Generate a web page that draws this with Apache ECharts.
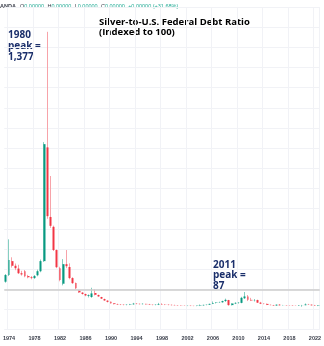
<!DOCTYPE html>
<html>
<head>
<meta charset="utf-8">
<script src="https://cdn.jsdelivr.net/npm/echarts@6/dist/echarts.min.js"></script>
<style>
  html, body { margin: 0; padding: 0; background: #ffffff; }
  #chart { width: 324px; height: 346px; }
</style>
</head>
<body>
<div id="chart"></div>
<script>
// Half-year periods, 1973 H2 through 2022 H2
const periods = [
  '1973-H2',
  '1974-H1','1974-H2','1975-H1','1975-H2','1976-H1','1976-H2','1977-H1','1977-H2',
  '1978-H1','1978-H2','1979-H1','1979-H2','1980-H1','1980-H2','1981-H1','1981-H2',
  '1982-H1','1982-H2','1983-H1','1983-H2','1984-H1','1984-H2','1985-H1','1985-H2',
  '1986-H1','1986-H2','1987-H1','1987-H2','1988-H1','1988-H2','1989-H1','1989-H2',
  '1990-H1','1990-H2','1991-H1','1991-H2','1992-H1','1992-H2','1993-H1','1993-H2',
  '1994-H1','1994-H2','1995-H1','1995-H2','1996-H1','1996-H2','1997-H1','1997-H2',
  '1998-H1','1998-H2','1999-H1','1999-H2','2000-H1','2000-H2','2001-H1','2001-H2',
  '2002-H1','2002-H2','2003-H1','2003-H2','2004-H1','2004-H2','2005-H1','2005-H2',
  '2006-H1','2006-H2','2007-H1','2007-H2','2008-H1','2008-H2','2009-H1','2009-H2',
  '2010-H1','2010-H2','2011-H1','2011-H2','2012-H1','2012-H2','2013-H1','2013-H2',
  '2014-H1','2014-H2','2015-H1','2015-H2','2016-H1','2016-H2','2017-H1','2017-H2',
  '2018-H1','2018-H2','2019-H1','2019-H2','2020-H1','2020-H2','2021-H1','2021-H2',
  '2022-H1','2022-H2'
];

// Silver / federal debt ratio, indexed to 100
const opens = [
  138,
  171,240,217,203,180,190,166,160, 156,170,190,240,804,459,410,295,
  205,128,225,211,156,131,94,84, 77,68,62,82,72,62,52,44,
  38,31,27,25,24,23,24,26, 29,28,27,28,26,24,23,24,
  27,25,24,23,22,21,20,19, 18.5,19,18,17.5,19,21,23,24,
  28,33,35,36,42,47,22,30, 33,33,56,65,48,45,47,34,
  29,28,23,22,20,24,21,21.5, 20.5,20,19,18.5,21,21.5,25,24,
  21,19
];
const closes = [
  171,
  245,217,205,180,174,165,160,156, 166,190,240,820,463,415,295,210,
  146,225,215,156,131,106,85,77, 70,72,80,73,65,54,45,38,
  31,27,25,24,23,24,26,29, 28,27,28,26,24,23,24,27,
  25,24,23,22,21,20,19,18.5, 19,18,17.5,19,21,23,24,28,
  33,35,36,42,48,22,30,33, 34,58,65,48,45,46,34,29,
  28,23,22,20,24,21,21.5,20.5, 20,19,18.5,21,21.5,25,24,21,
  19,21
];
const lows = [
  133,
  166,208,195,176,168,160,155,150, 152,165,185,236,450,405,290,205,
  140,120,205,150,127,100,82,74, 66,60,58,70,63,52,43,35,
  29,25,23,22,21,21,22,24, 26,25,25,24,23,21,21,22,
  23,22,21,20,20,19,18,17.5, 17,17,16.5,16.5,17,19,21,23,
  27,30,33,34,38,19,20,27, 29,31,52,42,42,40,33,27,
  26,22,21,19,19,20,20,19.5, 19,17.5,18,18,14,21,23,20,
  18,17
];
const highs = [
  176,
  348,259,228,222,192,196,172,166, 171,198,248,830,1377,662,416,298,
  212,250,295,229,160,134,97,86, 79,75,108,100,74,63,54,46,
  40,32,29,27,26,26,28,33, 32,30,31,29,28,25,26,33,
  31,27,26,25,24,22,21,20, 20,20,19,20,25,24,25,29,
  40,37,39,44,54,48,31,36, 37,63,87,72,58,52,49,38,
  31,30,25,23,25,27,23,22, 21.5,20.5,20,22,23,30,28,25,
  23,22
];

// Year tick labels every four years
const tickYears = ['1974','1978','1982','1986','1990','1994','1998','2002','2006','2010','2014','2018','2022'];

const UP = '#089981', DOWN = '#f23645';
const UP_WICK = '#86cfc1', DOWN_WICK = '#f7a3a9';

// Wicks: full high/low range in light tones
const wickData = periods.map((p, i) => [opens[i], closes[i], lows[i], highs[i]]);
// Bodies: open/close range in solid tones
const bodyData = periods.map((p, i) => [
  opens[i], closes[i], Math.min(opens[i], closes[i]), Math.max(opens[i], closes[i])
]);

function isTick(idx) {
  const p = periods[idx];
  return p.endsWith('H1') && tickYears.indexOf(p.slice(0, 4)) >= 0;
}

const chart = echarts.init(document.getElementById('chart'), null, { renderer: 'canvas' });

chart.setOption({
  animation: false,
  backgroundColor: '#ffffff',
  grid: { left: 0, right: 0, top: 7, bottom: 16.3, containLabel: false },
  xAxis: {
    type: 'category',
    data: periods,
    boundaryGap: true,
    axisLine: { show: false },
    axisTick: { show: false },
    axisLabel: {
      interval: (idx) => isTick(idx),
      formatter: (v) => v.slice(0, 4),
      fontSize: 5.5,
      fontFamily: 'Liberation Sans',
      fontWeight: 'bold',
      color: '#3a3e4a',
      margin: 6
    },
    splitLine: {
      show: true,
      interval: (idx) => isTick(idx),
      lineStyle: { color: '#f1f2f6', width: 1 }
    }
  },
  yAxis: {
    type: 'value',
    min: -100,
    max: 1500,
    interval: 100,
    axisLine: { show: false },
    axisTick: { show: false },
    axisLabel: { show: false },
    splitLine: { show: true, lineStyle: { color: '#f1f2f6', width: 1 } }
  },
  series: [
    {
      type: 'candlestick',
      name: 'wick',
      data: wickData,
      barWidth: 1,
      itemStyle: {
        color: UP_WICK, color0: DOWN_WICK,
        borderColor: UP_WICK, borderColor0: DOWN_WICK,
        borderWidth: 1
      },
      markLine: {
        silent: true,
        symbol: 'none',
        label: { show: false },
        lineStyle: { color: '#cdcdcd', width: 1.5, type: 'solid' },
        data: [{ yAxis: 100 }]
      }
    },
    {
      type: 'candlestick',
      name: 'body',
      data: bodyData,
      barWidth: 2.4,
      itemStyle: {
        color: UP, color0: DOWN,
        borderColor: UP, borderColor0: DOWN,
        borderWidth: 0
      }
    }
  ],
  graphic: [
    {
      type: 'text', x: 0, y: 6,
      style: {
        text: '{n|ANDA}',
        rich: { n: { fill: '#3a3e4a', fontSize: 5.5, fontFamily: 'Liberation Sans', fontWeight: 'bold' } },
        verticalAlign: 'middle'
      }
    },
    {
      type: 'text', x: 20, y: 6,
      style: {
        text: '{k|O}{v|0.00000} {k|H}{v|0.00000} {k|L}{v|0.00000} {k|C}{v|0.00000} {v|+0.00000 (+31.68%)}',
        rich: {
          k: { fill: '#3a3e4a', fontSize: 5.5, fontFamily: 'Liberation Sans' },
          v: { fill: '#22ab94', fontSize: 5.5, fontFamily: 'Liberation Sans' }
        },
        verticalAlign: 'middle'
      }
    },
    {
      type: 'text', x: 99, y: 16.7,
      style: {
        text: 'Silver-to-U.S. Federal Debt Ratio\n(Indexed to 100)',
        fill: '#000000',
        font: 'bold 9.5px "Open Sans"',
        lineHeight: 10.5,
        verticalAlign: 'top'
      }
    },
    {
      type: 'text', x: 8, y: 29.5,
      style: {
        text: '1980\npeak =\n1,377',
        fill: '#1b2f6b',
        font: 'bold 10px "Open Sans"',
        lineHeight: 11,
        verticalAlign: 'top'
      }
    },
    {
      type: 'text', x: 213, y: 259.7,
      style: {
        text: '2011\npeak =\n87',
        fill: '#1b2f6b',
        font: 'bold 10px "Open Sans"',
        lineHeight: 10.5,
        verticalAlign: 'top'
      }
    }
  ]
});
</script>
</body>
</html>
